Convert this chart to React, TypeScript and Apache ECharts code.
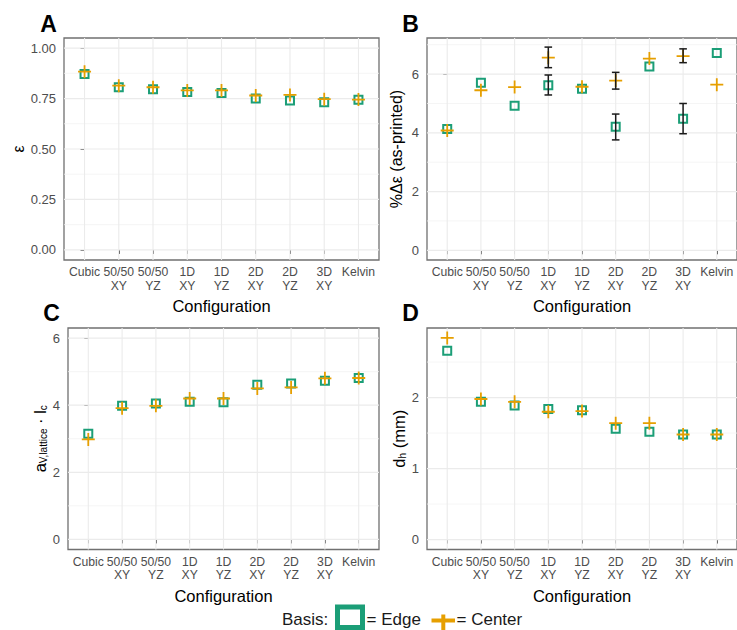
import React, { useEffect, useRef } from 'react';
import * as echarts from 'echarts';

// ---------- data ----------
const categories = ['Cubic', '50/50\nXY', '50/50\nYZ', '1D\nXY', '1D\nYZ', '2D\nXY', '2D\nYZ', '3D\nXY', 'Kelvin'];

// Panel A: porosity ε
const porosityEdge = [0.872, 0.806, 0.796, 0.783, 0.778, 0.750, 0.740, 0.732, 0.744];
const porosityCenter = [0.883, 0.814, 0.806, 0.790, 0.790, 0.765, 0.768, 0.747, 0.745];
const porosityTicks = [0, 0.25, 0.5, 0.75, 1];
const porosityMinor = [0.125, 0.375, 0.625, 0.875];

// Panel B: %Δε (as-printed)
const deltaEdge = [4.13, 5.71, 4.92, 5.62, 5.50, 4.21, 6.26, 4.48, 6.72];
const deltaCenter = [4.08, 5.45, 5.56, 6.56, 5.57, 5.78, 6.53, 6.61, 5.64];
const deltaErrIndex = [3, 5, 7];
const deltaEdgeErrLow = [5.29, 3.76, 3.97];
const deltaEdgeErrHigh = [5.97, 4.64, 5.0];
const deltaCenterErrLow = [6.22, 5.49, 6.39];
const deltaCenterErrHigh = [6.92, 6.06, 6.86];
const deltaTicks = [0, 2, 4, 6];
const deltaMinor = [1, 3, 5, 7];

// Panel C: a_V,lattice · l_c
const latticeEdge = [3.15, 3.98, 4.05, 4.10, 4.09, 4.61, 4.65, 4.73, 4.81];
const latticeCenter = [2.98, 3.91, 3.98, 4.20, 4.20, 4.50, 4.53, 4.80, 4.81];
const latticeTicks = [0, 2, 4, 6];
const latticeMinor = [1, 3, 5];

// Panel D: d_h (mm)
const hydraulicEdge = [2.66, 1.94, 1.89, 1.84, 1.82, 1.56, 1.52, 1.48, 1.48];
const hydraulicCenter = [2.84, 1.98, 1.94, 1.80, 1.81, 1.64, 1.64, 1.48, 1.48];
const hydraulicTicks = [0, 1, 2];
const hydraulicMinor = [0.5, 1.5, 2.5];

// ---------- styling ----------
const FONT = '"Liberation Sans", Arial, Helvetica, sans-serif';
const EDGE = '#1b9e77';
const CENTER = '#e69f00';
const PLUS = 'path://M0,-1L0,1M-1,0L1,0';
const xIdx = categories.map((_, i) => i);

type Panel = {
  letter: string;
  lx: number;
  ly: number;
  grid: { left: number; top: number; width: number; height: number };
  yMin: number;
  yMax: number;
  ticks: number[];
  minor: number[];
  fmt: (v: number) => string;
  name: string;
  nameGap: number;
  edge: number[];
  center: number[];
};

const panels: Panel[] = [
  {
    letter: 'A', lx: 48.5, ly: 24,
    grid: { left: 64, top: 38, width: 315, height: 222 },
    yMin: -0.05, yMax: 1.05, ticks: porosityTicks, minor: porosityMinor,
    fmt: (v) => v.toFixed(2), name: 'ε', nameGap: 38,
    edge: porosityEdge, center: porosityCenter,
  },
  {
    letter: 'B', lx: 410.5, ly: 24,
    grid: { left: 427, top: 38, width: 316, height: 222 },
    yMin: -0.33, yMax: 7.23, ticks: deltaTicks, minor: deltaMinor,
    fmt: (v) => String(v), name: '%Δε (as-printed)', nameGap: 23,
    edge: deltaEdge, center: deltaCenter,
  },
  {
    letter: 'C', lx: 51.5, ly: 313,
    grid: { left: 68, top: 328, width: 311, height: 221.5 },
    yMin: -0.3, yMax: 6.3, ticks: latticeTicks, minor: latticeMinor,
    fmt: (v) => String(v), name: '{m|a}{s|V,lattice}{m| · l}{s|c}', nameGap: 19,
    edge: latticeEdge, center: latticeCenter,
  },
  {
    letter: 'D', lx: 410.5, ly: 313,
    grid: { left: 427, top: 328, width: 316, height: 221.5 },
    yMin: -0.14, yMax: 2.98, ticks: hydraulicTicks, minor: hydraulicMinor,
    fmt: (v) => String(v), name: '{m|d}{s|h}{m| (mm)}', nameGap: 20,
    edge: hydraulicEdge, center: hydraulicCenter,
  },
];

function hLines(i: number, values: number[], color: string, width: number) {
  return {
    type: 'custom',
    xAxisIndex: i,
    yAxisIndex: i,
    silent: true,
    z: 1,
    encode: { x: 0, y: 1 },
    data: values.map((v) => [0, v]),
    renderItem: (params: any, api: any) => {
      const cs = params.coordSys;
      const p = api.coord([0, api.value(1)]);
      return {
        type: 'line',
        shape: { x1: cs.x, y1: p[1], x2: cs.x + cs.width, y2: p[1] },
        style: { stroke: color, lineWidth: width },
      };
    },
  };
}

function vLines(i: number, yMin: number) {
  return {
    type: 'custom',
    xAxisIndex: i,
    yAxisIndex: i,
    silent: true,
    z: 1,
    encode: { x: 0, y: 1 },
    data: xIdx.map((x) => [x, yMin]),
    renderItem: (params: any, api: any) => {
      const cs = params.coordSys;
      const p = api.coord([api.value(0), api.value(1)]);
      return {
        type: 'line',
        shape: { x1: p[0], y1: cs.y, x2: p[0], y2: cs.y + cs.height },
        style: { stroke: '#ebebeb', lineWidth: 1.1 },
      };
    },
  };
}

function errorBars(i: number, idx: number[], lo: number[], hi: number[]) {
  return {
    type: 'custom',
    xAxisIndex: i,
    yAxisIndex: i,
    silent: true,
    z: 5,
    encode: { x: 0, y: [1, 2] },
    data: idx.map((x, k) => [x, lo[k], hi[k]]),
    renderItem: (_params: any, api: any) => {
      const a = api.coord([api.value(0), api.value(1)]);
      const b = api.coord([api.value(0), api.value(2)]);
      const w = 3.8;
      const st = { stroke: '#1a1a1a', lineWidth: 1.5 };
      return {
        type: 'group',
        children: [
          { type: 'line', shape: { x1: a[0], y1: a[1], x2: b[0], y2: b[1] }, style: st },
          { type: 'line', shape: { x1: a[0] - w, y1: a[1], x2: a[0] + w, y2: a[1] }, style: st },
          { type: 'line', shape: { x1: b[0] - w, y1: b[1], x2: b[0] + w, y2: b[1] }, style: st },
        ],
      };
    },
  };
}

export default function App() {
  const ref = useRef<HTMLDivElement>(null);

  useEffect(() => {
    if (!ref.current) return;
    const chart = echarts.init(ref.current, undefined, { renderer: 'svg' });

    const grids = panels.map((p) => ({
      ...p.grid,
      show: true,
      borderColor: '#707070',
      borderWidth: 1.3,
      backgroundColor: 'transparent',
    }));

    const xAxes = panels.map((p, i) => ({
      gridIndex: i,
      type: 'value',
      min: -0.6,
      max: 8.6,
      axisLine: { show: false },
      splitLine: { show: false },
      axisTick: { show: true, customValues: xIdx, length: 4, lineStyle: { color: '#333', width: 1 } },
      axisLabel: {
        customValues: xIdx,
        formatter: (v: number) => categories[Math.round(v)],
        color: '#4d4d4d',
        fontSize: 12.2,
        lineHeight: 13.5,
        margin: 5.5,
        fontFamily: FONT,
      },
      name: 'Configuration',
      nameLocation: 'middle',
      nameGap: 37.5,
      nameTextStyle: { color: '#000', fontSize: 16.5, fontFamily: FONT },
    }));

    const yAxes = panels.map((p, i) => ({
      gridIndex: i,
      type: 'value',
      min: p.yMin,
      max: p.yMax,
      axisLine: { show: false },
      splitLine: { show: false },
      axisTick: { show: true, customValues: p.ticks, length: 4, lineStyle: { color: '#333', width: 1 } },
      axisLabel: {
        customValues: p.ticks,
        formatter: p.fmt,
        color: '#4d4d4d',
        fontSize: 13,
        margin: 8,
        fontFamily: FONT,
      },
      name: p.name,
      nameLocation: 'middle',
      nameRotate: 90,
      nameGap: p.nameGap,
      nameTextStyle: {
        color: '#000',
        fontSize: 16,
        fontFamily: FONT,
        rich: {
          m: { fontSize: 16.5, fontFamily: FONT, color: '#000', verticalAlign: 'top', lineHeight: 17 },
          s: { fontSize: 10, fontFamily: FONT, color: '#000', verticalAlign: 'bottom', lineHeight: 11, padding: [9, 0, 0, 0] },
        },
      },
    }));

    const series: any[] = [];
    panels.forEach((p, i) => {
      series.push(hLines(i, p.minor, '#f3f3f3', 0.8));
      series.push(hLines(i, p.ticks, '#ebebeb', 1.2));
      series.push(vLines(i, p.yMin));
      series.push({
        type: 'scatter',
        name: 'Edge',
        xAxisIndex: i,
        yAxisIndex: i,
        z: 3,
        symbol: 'rect',
        symbolSize: 8,
        itemStyle: { color: 'transparent', borderColor: EDGE, borderWidth: 2, opacity: 1 },
        data: p.edge.map((v, k) => [k, v]),
      });
      series.push({
        type: 'scatter',
        name: 'Center',
        xAxisIndex: i,
        yAxisIndex: i,
        z: 4,
        symbol: PLUS,
        symbolSize: 13,
        itemStyle: { color: 'transparent', borderColor: CENTER, borderWidth: 1.8, opacity: 1 },
        data: p.center.map((v, k) => [k, v]),
      });
    });
    series.push(errorBars(1, deltaErrIndex, deltaEdgeErrLow, deltaEdgeErrHigh));
    series.push(errorBars(1, deltaErrIndex, deltaCenterErrLow, deltaCenterErrHigh));

    const letters = panels.map((p) => ({
      type: 'text',
      x: p.lx,
      y: p.ly,
      style: {
        text: p.letter,
        fill: '#000',
        font: `bold 23px ${FONT}`,
        align: 'center',
        verticalAlign: 'middle',
      },
    }));

    const legendY = 619;
    const legend = [
      {
        type: 'text', x: 282, y: legendY,
        style: { text: 'Basis:', fill: '#1a1a1a', font: `17px ${FONT}`, align: 'left', verticalAlign: 'middle' },
      },
      {
        type: 'rect',
        shape: { x: 337.5, y: 607, width: 25, height: 20.5 },
        style: { fill: '#fff', stroke: EDGE, lineWidth: 5 },
      },
      {
        type: 'text', x: 366.5, y: legendY,
        style: { text: '= Edge', fill: '#1a1a1a', font: `17px ${FONT}`, align: 'left', verticalAlign: 'middle' },
      },
      {
        type: 'line',
        shape: { x1: 431.5, y1: 620.5, x2: 455, y2: 620.5 },
        style: { stroke: CENTER, lineWidth: 4 },
      },
      {
        type: 'line',
        shape: { x1: 443.3, y1: 614.5, x2: 443.3, y2: 632 },
        style: { stroke: CENTER, lineWidth: 4 },
      },
      {
        type: 'text', x: 456.5, y: legendY,
        style: { text: '= Center', fill: '#1a1a1a', font: `17px ${FONT}`, align: 'left', verticalAlign: 'middle' },
      },
    ];

    chart.setOption({
      animation: false,
      backgroundColor: '#fff',
      textStyle: { fontFamily: FONT },
      grid: grids,
      xAxis: xAxes,
      yAxis: yAxes,
      series,
      graphic: [...letters, ...legend],
    });

    return () => chart.dispose();
  }, []);

  return (
    <div
      ref={ref}
      style={{ position: 'absolute', left: 0, top: 0, width: 737, height: 630, background: '#fff' }}
    />
  );
}
